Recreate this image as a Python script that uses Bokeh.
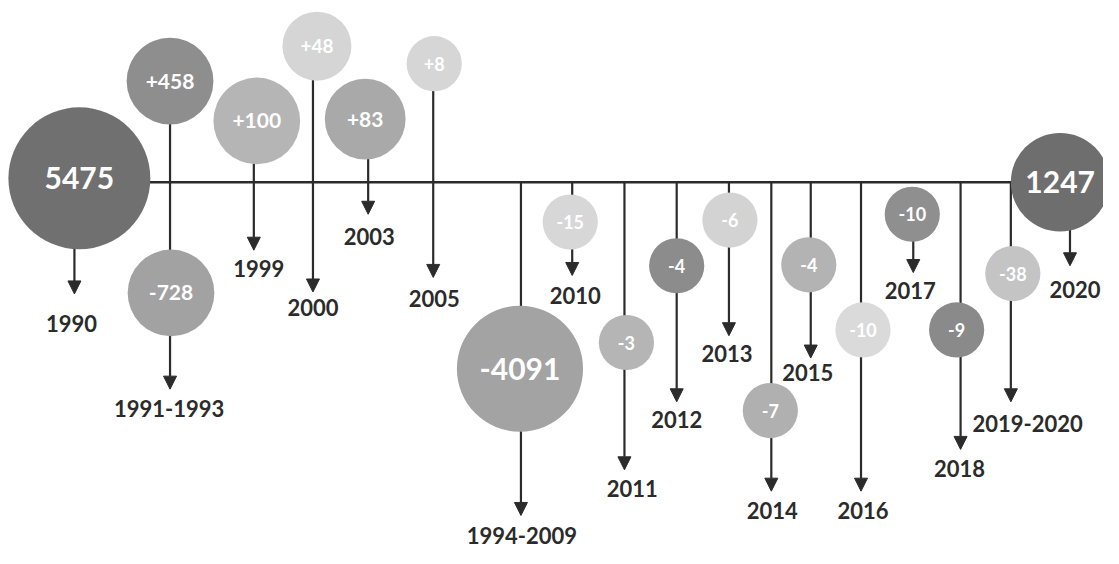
from bokeh.plotting import figure
from bokeh.models import Range1d, ColumnDataSource, Arrow, NormalHead
from bokeh.core.properties import value
from bokeh.embed import file_html
from bokeh.resources import INLINE

# ---- data ----
periods = ["1990", "1991-1993", "1999", "2000", "2003", "2005", "1994-2009", "2010", "2011",
           "2012", "2013", "2014", "2015", "2016", "2017", "2018", "2019-2020", "2020"]
bubble_labels = ["5475", "+458", "-728", "+100", "+48", "+83", "+8", "-4091", "-15", "-3",
                 "-4", "-6", "-7", "-4", "-10", "-10", "-9", "-38", "1247"]
bubble_period = ["1990", "1991-1993", "1991-1993", "1999", "2000", "2003", "2005", "1994-2009",
                 "2010", "2011", "2012", "2013", "2014", "2015", "2016", "2017", "2018",
                 "2019-2020", "2020"]

# ---- layout (positions of the infographic, in canvas units) ----
period_x   = [75, 172, 257, 317, 373, 439, 528, 580, 633, 686, 739, 782, 822, 873, 926, 974, 1025, 1085]
stem_top   = [200, 83, 124, 47, 122, 65, 187, 187, 187, 187, 187, 187, 187, 187, 200, 187, 187, 200]
arrow_tip  = [302, 400, 257, 300, 220, 285, 530, 283, 483, 413, 345, 505, 368, 505, 280, 462, 413, 273]
label_x    = [72, 171, 262, 317, 374, 440, 529, 583, 641, 686, 737, 783, 819, 875, 923, 973, 1042, 1090]
label_y    = [332, 420, 276, 316, 243, 307, 551, 304, 502, 431, 363, 525, 383, 525, 298, 482, 435, 297]

bubble_x = [80, 172, 173, 260, 321, 370, 440, 527, 578, 635, 686, 740, 781, 820, 875, 925, 970, 1027, 1075]
bubble_y = [183, 83, 301, 124, 47, 122, 65, 379, 228, 352, 273, 226, 422, 272, 339, 220, 339, 281, 187]
bubble_r = [72, 44, 44, 44, 35, 41, 28, 64, 28, 28, 28, 28, 28, 28, 28, 28, 28, 28, 50]
bubble_fill = ["#707070", "#8e8e8e", "#a2a2a2", "#b5b5b5", "#d5d5d5", "#a9a9a9", "#d6d6d6",
               "#a3a3a3", "#d7d7d7", "#b5b5b5", "#8c8c8c", "#d3d3d3", "#b0b0b0", "#b3b3b3",
               "#dadada", "#8f8f8f", "#8a8a8a", "#c4c4c4", "#6e6e6e"]
bubble_fs = ["30px", "21px", "21px", "21px", "19px", "21px", "18px", "30px", "18px", "18px",
             "18px", "18px", "18px", "18px", "18px", "18px", "18px", "18px", "30px"]

LINE_Y = 187
LINE_X0, LINE_X1 = 150, 1030
INK = "#2b2b2b"

p = figure(width=1103, height=548, x_range=Range1d(0, 1119), y_range=Range1d(564, 0),
           output_backend="svg", toolbar_location=None, min_border=0)
p.axis.visible = False
p.grid.visible = False
p.outline_line_color = None
p.background_fill_color = "white"
p.border_fill_color = "white"

# main timeline
p.segment(x0=[LINE_X0], y0=[LINE_Y], x1=[LINE_X1], y1=[LINE_Y], line_color=INK, line_width=2.5)

# stems with arrowheads
stems = ColumnDataSource(dict(x=period_x, y0=stem_top, y1=arrow_tip))
arr = Arrow(source=stems, x_start="x", y_start="y0", x_end="x", y_end="y1",
            line_color=INK, line_width=2.2,
            end=NormalHead(size=13, fill_color=INK, line_color=INK, line_width=1),
            level="underlay")
p.add_layout(arr)

# bubbles
bsrc = ColumnDataSource(dict(x=bubble_x, y=bubble_y, r=bubble_r, fill=bubble_fill,
                             label=bubble_labels, fs=bubble_fs, period=bubble_period))
p.circle(x="x", y="y", radius="r", fill_color="fill", line_color=None, source=bsrc)
p.text(x="x", y="y", text="label", text_font=value("Lato"), text_font_style="bold",
       text_font_size="fs", text_color="white", text_align="center", text_baseline="middle",
       source=bsrc)

# period labels
lsrc = ColumnDataSource(dict(x=label_x, y=label_y, t=periods))
p.text(x="x", y="y", text="t", text_font=value("Lato"), text_font_style="bold",
       text_font_size="22px", text_color=INK, text_align="center", text_baseline="middle",
       source=lsrc)

open("out.html", "w").write(file_html(p, INLINE))
